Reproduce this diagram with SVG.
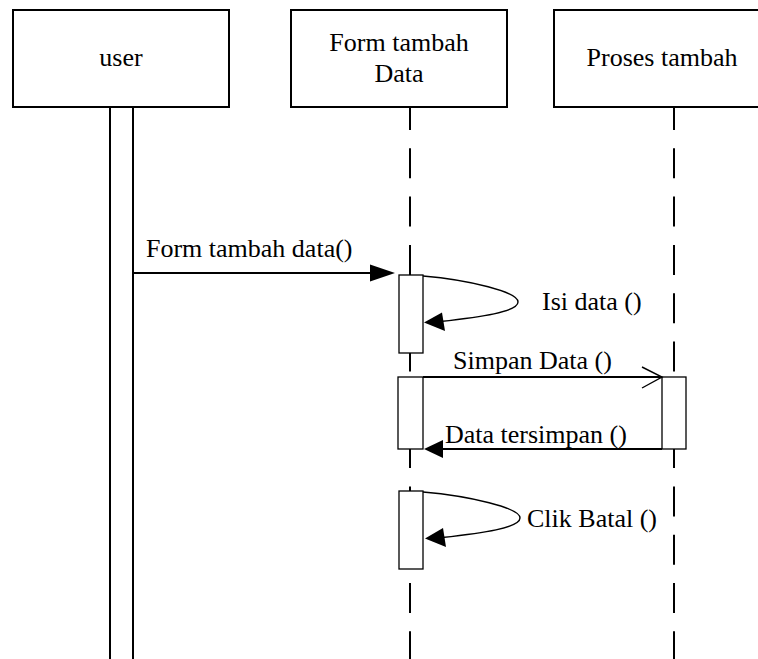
<svg xmlns="http://www.w3.org/2000/svg" width="758" height="659" viewBox="0 0 758 659">
<style>
  text { font-family: "Liberation Serif", "Times New Roman", serif; font-size: 26px; fill: #000; }
  .box { fill: #fff; stroke: #000; stroke-width: 2; }
  .life { stroke: #000; stroke-width: 2; fill: none; }
  .dash { stroke: #000; stroke-width: 2; fill: none; stroke-dasharray: 30 18.3; stroke-dashoffset: 7; }
  .act { fill: #fff; stroke: #000; stroke-width: 1.3; }
  .msg { stroke: #000; stroke-width: 1.8; fill: none; }
  .self { stroke: #000; stroke-width: 1.4; fill: none; }
  .head { fill: #000; stroke: none; }
</style>
<rect width="758" height="659" fill="#fff"/>
<g id="lifelines">
  <line class="life" x1="110" y1="107" x2="110" y2="659"/>
  <line class="life" x1="133" y1="107" x2="133" y2="659"/>
  <line class="dash" x1="410" y1="107" x2="410" y2="659"/>
  <line class="dash" x1="674" y1="107" x2="674" y2="659"/>
</g>
<g id="user">
  <rect class="box" x="13" y="10" width="216" height="97"/>
  <text x="121" y="66" text-anchor="middle">user</text>
</g>
<g id="form-tambah-data">
  <rect class="box" x="291" y="10" width="216" height="97"/>
  <text x="399" y="51" text-anchor="middle">Form tambah</text>
  <text x="399" y="82" text-anchor="middle">Data</text>
</g>
<g id="proses-tambah">
  <rect class="box" x="554" y="10" width="216" height="97"/>
  <text x="662" y="66" text-anchor="middle">Proses tambah</text>
</g>
<g id="activations">
  <rect class="act" x="399" y="275" width="24" height="78"/>
  <rect class="act" x="398" y="377" width="25" height="72"/>
  <rect class="act" x="662" y="377" width="24" height="72"/>
  <rect class="act" x="399" y="491" width="24" height="78"/>
</g>
<g id="connectors">
  <line class="msg" x1="133" y1="273" x2="372" y2="273"/>
  <polygon class="head" points="395,273 370,264.5 370,281.5"/>
  <path class="self" d="M423,276 C470,280 518,292 518,302 C518,312 480,317 440,321.5"/>
  <polygon class="head" points="424,322.5 442,312.5 445,331"/>
  <line class="msg" x1="423" y1="377" x2="662" y2="377"/>
  <polyline class="self" points="642,367 662,377 642,388"/>
  <line class="msg" x1="662" y1="449" x2="440" y2="449"/>
  <polygon class="head" points="424,449 443,440 443,458"/>
  <path class="self" d="M423,492 C470,496 520,508 520,518 C520,528 482,533 442,537.5"/>
  <polygon class="head" points="425,538.5 443,528 446,547"/>
</g>
<g id="labels">
  <text x="146" y="257">Form tambah data()</text>
  <text x="542" y="310">Isi data ()</text>
  <text x="453" y="369">Simpan Data ()</text>
  <text x="445" y="443">Data tersimpan ()</text>
  <text x="527" y="527">Clik Batal ()</text>
</g>
</svg>
